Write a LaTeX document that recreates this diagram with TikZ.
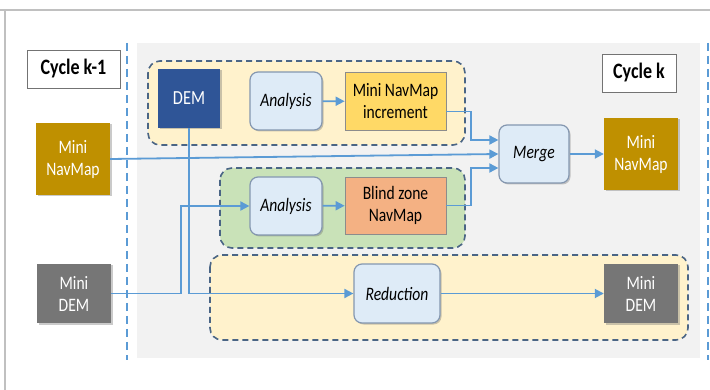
\documentclass[tikz,border=0pt]{standalone}
\usepackage{fontspec}
\setmainfont{Carlito}[FakeStretch=0.82]
\usepackage{xcolor}
\usetikzlibrary{positioning,calc,arrows.meta,shadows}

\definecolor{panelgray}{HTML}{F2F2F2}
\definecolor{groupyellow}{HTML}{FFF2CC}
\definecolor{groupgreen}{HTML}{C9E2B8}
\definecolor{groupedge}{HTML}{4A6585}
\definecolor{flowblue}{HTML}{5B9BD5}
\definecolor{procblue}{HTML}{DEEBF7}
\definecolor{procedge}{HTML}{8497B0}
\definecolor{demblue}{HTML}{2F5597}
\definecolor{navgold}{HTML}{BF9000}
\definecolor{demgray}{HTML}{767676}
\definecolor{incryellow}{HTML}{FFD966}
\definecolor{blindorange}{HTML}{F4B183}
\definecolor{framegray}{HTML}{C0C0C0}

\tikzset{
  txt/.style={font=\fontsize{19}{22}\selectfont, align=center, inner sep=0pt},
  shade/.style={drop shadow={shadow xshift=1.5pt, shadow yshift=-1.5pt, opacity=0.35, fill=black!60}},
  databox/.style={txt, shade, minimum width=74pt, minimum height=72pt, text=white},
  procbox/.style={txt, shade, draw=procedge, line width=1.2pt, fill=procblue, rounded corners=8pt,
    minimum width=72pt, minimum height=58pt, font=\fontsize{19}{22}\selectfont\itshape},
  mapbox/.style={txt, draw=black!45, line width=0.7pt, minimum width=101pt, minimum height=58pt},
  cyclebox/.style={draw=black!55, line width=0.7pt, fill=white, inner sep=0pt,
    minimum height=38pt, font=\fontsize{22}{24}\selectfont\bfseries},
  group/.style={draw=groupedge, line width=1.6pt, dash pattern=on 6pt off 4pt, rounded corners=12pt},
  cycleline/.style={draw=flowblue, line width=2pt, dash pattern=on 8pt off 5pt},
  flow/.style={draw=flowblue, line width=1.8pt, -{Triangle[length=9pt,width=9pt]}},
}

\begin{document}
\begin{tikzpicture}[x=1pt, y=-1pt]
    \useasboundingbox (0,0) rectangle (710,390);

    % Screen frame
    \draw [framegray, line width=2pt] (0,10) -- (710,10);
    \draw [framegray, line width=2pt] (5,10) -- (5,390);

    % Current cycle panel and cycle borders
    \fill [panelgray] (137,43) rectangle (700,358);
    \draw [cycleline] (127,43) -- (127,360);
    \draw [cycleline] (708,43) -- (708,360);

    % Groups
    \draw [group, fill=groupyellow] (148,61) rectangle (465,145);
    \draw [group, fill=groupgreen] (220,168) rectangle (465,248);
    \draw [group, fill=groupyellow] (210,255) rectangle (688,340);

    % Cycle labels
    \node [cyclebox, minimum width=93pt] (cycPrev) at (73.5,69) {Cycle k-1};
    \node [cyclebox, minimum width=74pt] (cycCur) at (639,73) {Cycle k};

    % Inputs from cycle k-1
    \node [databox, fill=navgold] (navOld) at (73,159) {Mini\\NavMap};
    \node [databox, fill=demgray, minimum height=59pt] (demOld) at (74,293.5) {Mini\\DEM};
    \node [databox, fill=demblue, minimum width=62pt, minimum height=59pt,
      font=\fontsize{20}{22}\selectfont] (dem) at (189,98.5) {DEM};

    % Processing
    \node [procbox] (anaTop) at (286,101) {Analysis};
    \node [mapbox, fill=incryellow] (incr) at (395.5,101.5) {Mini NavMap\\increment};
    \node [procbox] (anaBlind) at (286,206) {Analysis};
    \node [mapbox, fill=blindorange, minimum height=57pt] (blind) at (395.5,205.5) {Blind zone\\NavMap};
    \node [procbox, minimum width=70pt] (merge) at (534,154) {Merge};
    \node [procbox, minimum width=86pt, minimum height=59pt] (reduc) at (397,293.5) {Reduction};

    % Outputs of cycle k
    \node [databox, fill=navgold] (navNew) at (641,154) {Mini\\NavMap};
    \node [databox, fill=demgray, minimum height=59pt] (demNew) at (641,293.5) {Mini\\DEM};

    % Data flow
    \draw [flow] (anaTop) -- (incr);
    \draw [flow] (anaBlind) -- (blind);
    \draw [flow] ([yshift=-10pt]incr.east) -- ++(25,0) |- ([yshift=14pt]merge.west);
    \draw [flow] (blind.east) -- ++(25,0) |- ([yshift=-14pt]merge.west);
    \draw [flow] (navOld.east) -- (merge.west);
    \draw [flow] (merge) -- (navNew);
    \draw [flow] (dem.south) |- (reduc.west);
    \draw [flow] (demOld.east) -- ++(70,0) |- (anaBlind.west);
    \draw [flow] (reduc) -- (demNew);
\end{tikzpicture}
\end{document}
